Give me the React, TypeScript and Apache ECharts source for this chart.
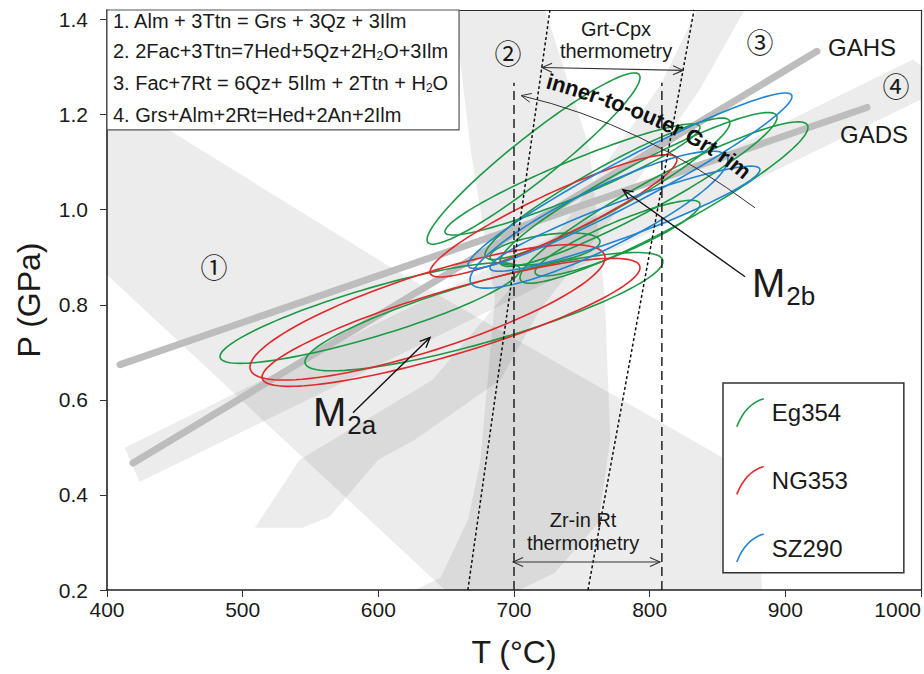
import React, { useEffect, useRef } from "react";
import * as echarts from "echarts";

const FONT = '"Liberation Sans", Arial, Helvetica, sans-serif';
const CJK = '"Noto Sans CJK JP", "Noto Sans CJK SC", sans-serif';
const GREEN = "#1b9a46";
const RED = "#e3282b";
const BLUE = "#1f84d2";
const BAND = "rgba(0,0,0,0.075)";
const THICK = "#bdbdbd";
const INK = "#1a1a1a";

// axes (T in °C, P in GPa)
const T_TICKS = [400, 500, 600, 700, 800, 900, 1000];
const P_TICKS = [0.2, 0.4, 0.6, 0.8, 1.0, 1.2, 1.4];

// reaction fields ①–④
const field1 = [[400, 1.248], [616, 0.867], [854, 0.478], [872, 0.442], [880, 0.326], [883, 0.2], [649, 0.2], [400, 0.863]];
const field2 = [[656, 1.42], [723, 1.42], [756, 1.126], [767, 0.811], [771, 0.516], [762, 0.341], [730, 0.236], [704, 0.2], [627, 0.2], [646, 0.227], [666, 0.347], [675, 0.467], [686, 0.811], [668, 1.126]];
const field3 = [[835, 1.42], [870, 1.42], [837, 1.253], [771, 0.979], [719, 0.789], [690, 0.642], [627, 0.516], [600, 0.474], [564, 0.354], [544, 0.331], [509, 0.331], [542, 0.474], [640, 0.642], [734, 0.958], [808, 1.263]];
const field4 = [[413, 0.499], [994, 1.316], [1000, 1.303], [1000, 1.232], [424, 0.427]];
const fields = [field1, field2, field3, field4];

// reference lines
const gahs = [[419.2, 0.467], [923.3, 1.333]];
const gads = [[409.6, 0.674], [960.2, 1.215]];

// thermometry limits
const zrInRtT = [700, 809];
const zrInRtTopP = 1.267;
const grtCpxLow = [[666, 0.2], [726.5, 1.42]];
const grtCpxHigh = [[754.5, 0.2], [832.7, 1.42]];

// P–T uncertainty ellipses: [T_left, P_left, T_right, P_right, half-height in P at the centre]
const eg354 = [
  [483.3, 0.691, 704.4, 0.874, 0.053],
  [545.9, 0.68, 809.8, 0.891, 0.066],
  [635.9, 0.937, 792.9, 1.278, 0.058],
  [649.1, 0.954, 837.1, 1.173, 0.041],
  [678.6, 0.905, 859.2, 1.183, 0.053],
  [689.7, 0.891, 893.9, 1.194, 0.057],
  [704.4, 0.857, 916.7, 1.173, 0.062],
  [682.3, 0.901, 763.4, 0.933, 0.03],
  [715.5, 0.869, 837.1, 1.011, 0.036],
];
const ng353 = [
  [638.1, 0.869, 820.1, 1.105, 0.051],
  [505.4, 0.669, 767.1, 0.899, 0.084],
  [514.3, 0.648, 792.9, 0.878, 0.07],
];
const sz290 = [
  [666.1, 0.884, 904.9, 1.238, 0.052],
  [667.6, 0.853, 857.7, 1.105, 0.07],
  [682.3, 0.878, 881.3, 1.084, 0.04],
];

const sampleNames = ["Eg354", "NG353", "SZ290"];
const reactions = [
  "1. Alm + 3Ttn = Grs + 3Qz + 3Ilm",
  "2. 2Fac+3Ttn=7Hed+5Qz+2H{s|2}O+3Ilm",
  "3. Fac+7Rt = 6Qz+ 5Ilm + 2Ttn + H{s|2}O",
  "4. Grs+Alm+2Rt=Hed+2An+2Ilm",
];
const rimLabel = "inner-to-outer Grt rim";

function ellipseRenderer(color: string) {
  return (_p: any, api: any) => {
    const tl = api.value(0), pl = api.value(1), tr = api.value(2), pr = api.value(3), h = api.value(4);
    const tc = (tl + tr) / 2, pc = (pl + pr) / 2, ut = (tr - tl) / 2, up = (pr - pl) / 2;
    const pts: number[][] = [];
    for (let i = 0; i <= 120; i++) {
      const a = (i / 120) * Math.PI * 2;
      pts.push(api.coord([tc + Math.cos(a) * ut, pc + Math.cos(a) * up + Math.sin(a) * h]));
    }
    return { type: "polyline", shape: { points: pts }, style: { stroke: color, fill: "none", lineWidth: 1.6 }, silent: true };
  };
}

function lineSeries(data: number[][], style: any, z = 4) {
  return { type: "line", data, symbol: "none", silent: true, z, lineStyle: style, animation: false };
}

function buildOption() {
  const axisLine = { show: true, onZero: false, lineStyle: { color: "#222", width: 1.6 } };
  return {
    animation: false,
    backgroundColor: "#fff",
    textStyle: { fontFamily: FONT },
    grid: { left: 107, right: 3, top: 10, bottom: 84, containLabel: false, outerBoundsMode: "none" },
    xAxis: [
      {
        type: "value", min: 400, max: 1000, interval: 100,
        name: "T (°C)", nameLocation: "middle", nameGap: 46,
        nameTextStyle: { fontSize: 32, color: INK, fontFamily: FONT },
        axisLine,
        axisTick: { show: true, length: 7, customValues: T_TICKS, lineStyle: { color: "#333", width: 1 } },
        axisLabel: {
          fontSize: 21, color: INK, margin: 9, fontFamily: FONT, customValues: T_TICKS,
          alignMaxLabel: "right", formatter: (v: number) => String(v),
        },
        splitLine: { show: false },
      },
      {
        type: "value", position: "top", min: 400, max: 1000,
        axisLine: { show: true, onZero: false, lineStyle: { color: "#333", width: 1.2 } },
        axisTick: { show: false }, axisLabel: { show: false }, splitLine: { show: false },
      },
    ],
    yAxis: [
      {
        type: "value", min: 0.2, max: 1.42, interval: 0.2,
        name: "P (GPa)", nameLocation: "middle", nameGap: 62, nameRotate: 90,
        nameTextStyle: { fontSize: 32, color: INK, fontFamily: FONT },
        axisLine,
        axisTick: { show: true, length: 7, customValues: P_TICKS, lineStyle: { color: "#333", width: 1 } },
        axisLabel: { fontSize: 21, color: INK, margin: 19, fontFamily: FONT, customValues: P_TICKS, formatter: (v: number) => v.toFixed(1) },
        splitLine: { show: false },
      },
      {
        type: "value", position: "right", min: 0.2, max: 1.42,
        axisLine: { show: true, onZero: false, lineStyle: { color: "#333", width: 1.2 } },
        axisTick: { show: false }, axisLabel: { show: false }, splitLine: { show: false },
      },
    ],
    legend: {
      left: 723, top: 383, orient: "vertical",
      itemWidth: 27, itemHeight: 28, itemGap: 38,
      padding: [15, 56, 10, 13],
      borderColor: "#333", borderWidth: 1.5, backgroundColor: "#fff",
      selectedMode: false,
      icon: "path://M0,28C5,15 13,4 27,0",
      textStyle: { fontSize: 24, color: INK, fontFamily: FONT, padding: [0, 0, 0, 3] },
      data: [
        { name: sampleNames[0], itemStyle: { color: "rgba(0,0,0,0)", borderColor: GREEN, borderWidth: 1.6 } },
        { name: sampleNames[1], itemStyle: { color: "rgba(0,0,0,0)", borderColor: RED, borderWidth: 1.6 } },
        { name: sampleNames[2], itemStyle: { color: "rgba(0,0,0,0)", borderColor: BLUE, borderWidth: 1.6 } },
      ],
    },
    series: [
      {
        type: "custom", name: "fields", silent: true, z: 1,
        data: fields.map((_, i) => [i, 0]),
        renderItem: (_p: any, api: any) => {
          const f = fields[api.value(0)];
          return { type: "polygon", shape: { points: f.map((d) => api.coord(d)) }, style: { fill: BAND } };
        },
      },
      lineSeries(gahs, { color: THICK, width: 7, cap: "round" }, 2),
      lineSeries(gads, { color: THICK, width: 7, cap: "round" }, 2),
      { type: "custom", name: sampleNames[0], z: 3, color: GREEN, data: eg354, renderItem: ellipseRenderer(GREEN) },
      { type: "custom", name: sampleNames[1], z: 3, color: RED, data: ng353, renderItem: ellipseRenderer(RED) },
      { type: "custom", name: sampleNames[2], z: 3, color: BLUE, data: sz290, renderItem: ellipseRenderer(BLUE) },
      lineSeries([[zrInRtT[0], 0.2], [zrInRtT[0], zrInRtTopP]], { color: "#222", width: 1.5, type: [9, 5] }),
      lineSeries([[zrInRtT[1], 0.2], [zrInRtT[1], zrInRtTopP]], { color: "#222", width: 1.5, type: [9, 5] }),
      lineSeries(grtCpxLow, { color: "#111", width: 1.5, type: [3, 2.5] }),
      lineSeries(grtCpxHigh, { color: "#111", width: 1.5, type: [3, 2.5] }),
    ],
  };
}

function buildGraphics(chart: any) {
  const P = (t: number, p: number): number[] => chart.convertToPixel({ xAxisIndex: 0, yAxisIndex: 0 }, [t, p]);
  const els: any[] = [];
  const ctx = document.createElement("canvas").getContext("2d")!;
  const text = (pt: number[], t: string, size: number, extra: any = {}, family = FONT) => ({
    type: "text", x: pt[0], y: pt[1], z: 100, silent: true,
    style: {
      text: t, fontSize: size, fontFamily: family, fill: INK,
      align: "center", verticalAlign: "middle", textAlign: "center", textVerticalAlign: "middle", ...extra,
    },
  });
  const head = (tip: number[], from: number[], color: string, lw: number, len = 11, ang = 0.42) => {
    const dx = from[0] - tip[0], dy = from[1] - tip[1];
    const L = Math.hypot(dx, dy);
    const ux = dx / L, uy = dy / L;
    const r = (a: number) => [tip[0] + len * (ux * Math.cos(a) - uy * Math.sin(a)), tip[1] + len * (ux * Math.sin(a) + uy * Math.cos(a))];
    return { type: "polyline", z: 100, silent: true, shape: { points: [r(ang), tip, r(-ang)] }, style: { stroke: color, fill: "none", lineWidth: lw } };
  };
  const arrow = (a: number[], b: number[], color: string, lw: number, both = false) => {
    els.push({ type: "line", z: 100, silent: true, shape: { x1: a[0], y1: a[1], x2: b[0], y2: b[1] }, style: { stroke: color, lineWidth: lw } });
    els.push(head(b, a, color, lw));
    if (both) els.push(head(a, b, color, lw));
  };

  // reaction list
  const b0 = P(400, 1.42), b1 = P(659.5, 1.168);
  els.push({ type: "rect", z: 90, silent: true, shape: { x: b0[0], y: b0[1], width: b1[0] - b0[0], height: b1[1] - b0[1] }, style: { fill: "#fff", stroke: "#555", lineWidth: 1.2 } });
  const rows = [1.396, 1.333, 1.267, 1.2];
  reactions.forEach((r, i) => {
    els.push(text(P(404.4, rows[i]), r, 20, {
      align: "left", textAlign: "left", lineHeight: 22,
      rich: { s: { fontSize: 12, lineHeight: 12, verticalAlign: "bottom", fontFamily: FONT, fill: INK } },
    }));
  });

  // field numbers
  els.push(text(P(478.9, 0.88), "①", 27, {}, CJK));
  els.push(text(P(695.6, 1.331), "②", 27, {}, CJK));
  els.push(text(P(881.3, 1.354), "③", 27, {}, CJK));
  els.push(text(P(981.6, 1.261), "④", 27, {}, CJK));

  els.push(text(P(956.5, 1.341), "GAHS", 24));
  els.push(text(P(965.4, 1.158), "GADS", 24));

  // thermometry annotations
  els.push(text(P(775.2, 1.379), "Grt-Cpx", 20));
  els.push(text(P(775.2, 1.333), "thermometry", 20));
  arrow(P(720.6, 1.299), P(824.6, 1.293), "#333", 1.1, true);
  els.push(text(P(750.9, 0.347), "Zr-in Rt", 20));
  els.push(text(P(750.9, 0.299), "thermometry", 20));
  arrow(P(699.3, 0.259), P(807.6, 0.259), "#333", 1.1, true);

  // metamorphic stage labels (M with subscript)
  const stage = (t: number, p: number, sub: string) => {
    const pt = P(t, p);
    ctx.font = `40px ${FONT}`;
    const mw = ctx.measureText("M").width;
    els.push(text(pt, "M", 40, { align: "left", textAlign: "left" }));
    els.push(text([pt[0] + mw + 1, pt[1] + 13], sub, 26, { align: "left", textAlign: "left" }));
  };
  stage(551.8, 0.575, "2a");
  stage(875.4, 0.846, "2b");
  arrow(P(581.3, 0.573), P(638.1, 0.731), "#111", 1.4);
  arrow(P(870.3, 0.859), P(780.3, 1.042), "#111", 1.4);

  // curved rim arrow
  const c0 = P(877.6, 1.004), cc = P(794.3, 1.181), c2 = P(705.2, 1.24);
  els.push({ type: "bezierCurve", z: 100, silent: true, shape: { x1: c0[0], y1: c0[1], cpx1: cc[0], cpy1: cc[1], x2: c2[0], y2: c2[1] }, style: { stroke: "#333", fill: "none", lineWidth: 1 } });
  els.push(head(c2, cc, "#333", 1));

  // label set along a curve
  const q0 = P(720.6, 1.274), qc = P(826.8, 1.192), q2 = P(875.4, 1.067);
  const bez = (t: number) => [
    (1 - t) * (1 - t) * q0[0] + 2 * (1 - t) * t * qc[0] + t * t * q2[0],
    (1 - t) * (1 - t) * q0[1] + 2 * (1 - t) * t * qc[1] + t * t * q2[1],
  ];
  const N = 400;
  const pts: number[][] = [];
  const acc: number[] = [0];
  for (let i = 0; i <= N; i++) {
    pts.push(bez(i / N));
    if (i > 0) acc.push(acc[i - 1] + Math.hypot(pts[i][0] - pts[i - 1][0], pts[i][1] - pts[i - 1][1]));
  }
  const rimSize = 22;
  ctx.font = `bold ${rimSize}px ${FONT}`;
  const widths = Array.from(rimLabel).map((ch) => ctx.measureText(ch).width);
  const total = widths.reduce((a, b) => a + b, 0);
  let s = (acc[N] - total) / 2;
  Array.from(rimLabel).forEach((ch, i) => {
    const mid = s + widths[i] / 2;
    s += widths[i];
    let k = 1;
    while (k < N && acc[k] < mid) k++;
    const f = (mid - acc[k - 1]) / Math.max(1e-6, acc[k] - acc[k - 1]);
    const x = pts[k - 1][0] + f * (pts[k][0] - pts[k - 1][0]);
    const y = pts[k - 1][1] + f * (pts[k][1] - pts[k - 1][1]);
    const ang = Math.atan2(pts[k][1] - pts[k - 1][1], pts[k][0] - pts[k - 1][0]);
    if (ch === " ") return;
    els.push({
      type: "text", x, y, rotation: -ang, z: 101, silent: true,
      style: { text: ch, fontSize: rimSize, fontWeight: "bold", fontFamily: FONT, fill: "#111", align: "center", verticalAlign: "middle", textAlign: "center", textVerticalAlign: "middle" },
    });
  });

  return els;
}

export default function App() {
  const ref = useRef<HTMLDivElement>(null);
  useEffect(() => {
    const el = ref.current;
    if (!el) return;
    const chart = echarts.init(el, null, { renderer: "svg" });
    chart.setOption(buildOption() as any);
    chart.setOption({ graphic: { elements: buildGraphics(chart) } } as any);
    return () => chart.dispose();
  }, []);
  return <div ref={ref} style={{ position: "fixed", left: 0, top: 0, width: 924, height: 674, background: "#fff" }} />;
}
